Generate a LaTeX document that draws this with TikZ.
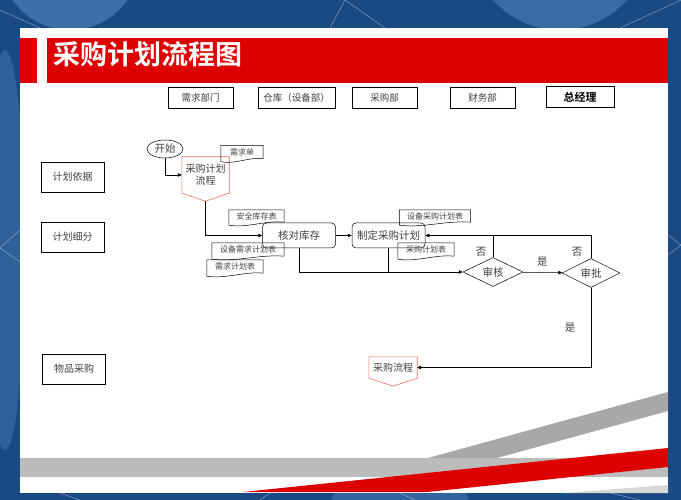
\documentclass[tikz,border=0pt]{standalone}
\usepackage{fontspec}
\setmainfont{Noto Sans CJK SC}[BoldFont={Noto Sans CJK SC Bold}]
\usetikzlibrary{arrows.meta,shapes.geometric}

\definecolor{bgblue}{RGB}{26,74,132}
\definecolor{lightblue}{RGB}{95,150,205}
\definecolor{barred}{RGB}{222,0,0}
\definecolor{bandgray}{RGB}{188,188,188}
\definecolor{diaggray}{RGB}{168,168,168}
\definecolor{offred}{RGB}{228,115,90}
\definecolor{txtgray}{RGB}{64,64,64}

\tikzset{
  lane/.style={draw, line width=0.7pt, minimum height=21pt, inner sep=0pt, font=\fontsize{9.5}{11}\selectfont, text=txtgray},
  sidebox/.style={draw, line width=0.7pt, minimum width=63pt, minimum height=30pt, inner sep=0pt, font=\fontsize{10}{11}\selectfont, text=txtgray},
  stepbox/.style={draw, rounded corners=4pt, line width=0.5pt, minimum width=73pt, minimum height=25pt, inner sep=0pt, font=\fontsize{10.5}{12}\selectfont, text=txtgray},
  choice/.style={draw, diamond, aspect=2, line width=0.5pt, inner sep=0pt, font=\fontsize{10.5}{12}\selectfont, text=txtgray},
  docbox/.style={inner sep=0pt, font=\fontsize{8}{9}\selectfont, text=txtgray},
  offbox/.style={inner sep=0pt, align=center, font=\fontsize{10}{12}\selectfont, text=txtgray},
  tag/.style={font=\fontsize{10.5}{12}\selectfont, text=txtgray},
  arr/.style={-{Triangle[length=4pt,width=3.5pt]}, line width=0.5pt},
  link/.style={line width=0.5pt}
}

% document shape: name, position, width, height, text
\newcommand{\docnode}[5]{%
  \node[docbox, minimum width=#3, minimum height=#4] (#1) at (#2) {#5};
  \draw[line width=0.5pt] (#1.north west) -- (#1.north east) -- (#1.south east)
    .. controls +(-#3/3,-2) and +(#3/3,3) .. ([yshift=-3pt]#1.south west) -- cycle;
}
% off-page connector: name, position, width, height, text
\newcommand{\offpage}[5]{%
  \node[offbox, minimum width=#3, minimum height=#4] (#1) at (#2) {#5};
  \draw[offred, line width=0.6pt] (#1.south west) -- (#1.north west) -- (#1.north east)
    -- (#1.south east) -- ([yshift=-8pt]#1.south) coordinate (#1-tip) -- cycle;
}

\begin{document}
\begin{tikzpicture}[x=1pt, y=-1pt]
  % background
  \fill[bgblue] (0,0) rectangle (681,500);
  \begin{scope}
    \clip (0,0) rectangle (681,500);
    \fill[lightblue, opacity=.5] (70,-40) circle (70);
    \fill[lightblue, opacity=.45] (560,-60) circle (90);
    \fill[lightblue, opacity=.3] (5,250) ellipse (20 and 200);
    \fill[lightblue, opacity=.35] (400,540) circle (80);
    \draw[white, opacity=.5, line width=0.4pt] (0,10) -- (40,28) (330,28) -- (345,0) -- (385,28)
      (620,28) -- (681,0) (20,230) -- (0,248) -- (20,262) (668,235) -- (681,245) -- (668,255)
      (60,493) -- (80,500) (270,493) -- (260,500) (400,493) -- (415,500) (610,493) -- (640,500);
  \end{scope}
  % panel and title bar
  \fill[white] (20,28) rectangle (668,493);
  \fill[barred] (20,38) rectangle (37,83);
  \fill[barred] (47,38) rectangle (668,83);
  \node[anchor=west, text=white, font=\fontsize{27}{29}\selectfont\bfseries] (title) at (50,54) {采购计划流程图};
  % bottom bands
  \fill[diaggray] (428,458) -- (668,392) -- (668,411) -- (497,458) -- cycle;
  \fill[bandgray] (20,458) rectangle (668,477);
  \fill[barred] (243,492) -- (668,448) -- (668,467) -- (427,492) -- cycle;
  \fill[bandgray!60] (565,493) -- (668,485) -- (668,493) -- cycle;

  % lanes
  \node[lane, minimum width=65pt] (dept) at (200.5,97.5) {需求部门};
  \node[lane, minimum width=77pt] (store) at (296.5,97.5) {仓库（设备部）};
  \node[lane, minimum width=65pt] (buy) at (384.5,97.5) {采购部};
  \node[lane, minimum width=65pt] (finance) at (482.5,97.5) {财务部};
  \node[lane, minimum width=68pt, line width=1pt, text=black, font=\fontsize{11}{12}\selectfont\bfseries] (boss) at (580,97.5) {总经理};

  % stages
  \node[sidebox] (basis) at (72.5,177) {计划依据};
  \node[sidebox] (detail) at (72.5,237) {计划细分};
  \node[sidebox] (goods) at (74,369) {物品采购};

  % flow
  \node[draw, ellipse, line width=0.5pt, minimum width=36pt, minimum height=18pt, inner sep=0pt, tag] (start) at (165,149) {开始};
  \offpage{plan}{205.5,175}{47}{36}{采购计划\\流程}
  \docnode{need}{242,152}{42}{13}{需求单}
  \node[stepbox] (check) at (299,235.5) {核对库存};
  \node[stepbox] (make) at (388.5,235.5) {制定采购计划};
  \docnode{safe}{256.5,216}{55}{12}{安全库存表}
  \docnode{equipneed}{248,249.5}{72}{13}{设备需求计划表}
  \docnode{needplan}{235,266.5}{56}{13}{需求计划表}
  \docnode{equipbuy}{435,216}{71}{12}{设备采购计划表}
  \docnode{buyplan}{426,249.5}{56}{13}{采购计划表}
  \node[choice, minimum width=60pt, minimum height=29pt] (audit) at (493,272) {审核};
  \node[choice, minimum width=58pt, minimum height=29pt] (approve) at (591,273) {审批};
  \offpage{flow}{393,367.5}{48}{21}{采购流程}

  \draw[arr] (start.south) |- (plan.west);
  \draw[arr] (plan-tip) |- (check.west);
  \draw[arr] (check) -- (make);
  \draw[arr] (check.south) |- (audit.west);
  \draw[link] (make.south) -- (make.south |- audit.west);
  \draw[arr] (audit) -- node[tag, above=3pt] (yes1) {是} (approve);
  \draw[arr] (approve.north) |- (make.east);
  \draw[link] (audit.north) -- (audit.north |- make.east);
  \node[tag] (no1) at (481,252) {否};
  \node[tag] (no2) at (577,252) {否};
  \draw[arr] (approve.south) |- node[tag, pos=0.25, left=12pt] (yes2) {是} (flow.east);
\end{tikzpicture}
\end{document}
